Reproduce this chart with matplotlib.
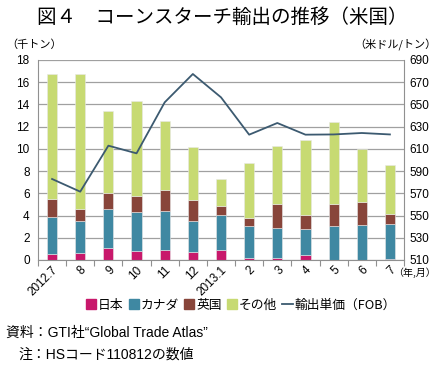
import numpy as np
import matplotlib.pyplot as plt
from matplotlib.lines import Line2D
from matplotlib.patches import Patch

plt.rcParams['font.family'] = ['Liberation Sans', 'Noto Sans CJK JP', 'DejaVu Sans']

months = ["2012.7", "8", "9", "10", "11", "12", "2013.1", "2", "3", "4", "5", "6", "7"]
japan = [0.5, 0.66, 1.1, 0.78, 0.93, 0.75, 0.92, 0.2, 0.2, 0.42, 0.0, 0.0, 0.1]
canada = [3.34, 2.88, 3.52, 3.51, 3.45, 2.76, 3.12, 2.9, 2.7, 2.38, 3.03, 3.12, 3.17]
uk = [1.66, 1.02, 1.41, 1.44, 1.89, 1.89, 0.83, 0.7, 2.15, 1.28, 2.01, 2.1, 0.9]
other = [11.2, 12.19, 7.37, 8.57, 6.23, 4.8, 2.38, 4.9, 5.2, 6.72, 7.41, 4.74, 4.41]
price = [582.9, 571.5, 612.9, 606.0, 651.9, 677.4, 656.4, 622.8, 633.3, 622.8, 623.0, 624.3, 623.0]

c_jp = "#C8186B"
c_ca = "#3F88A2"
c_uk = "#88453A"
c_ot = "#C7DA72"
c_line = "#3C5A70"
jp = ['Noto Sans CJK JP', 'DejaVu Sans']

fig = plt.figure(figsize=(4.39, 3.66), dpi=100)
ax = fig.add_axes([38/439, 1-260/366, (404-38)/439, 200/366])
x = np.arange(len(months))
w = 0.36
b1 = np.array(japan)
b2 = b1 + np.array(canada)
b3 = b2 + np.array(uk)
ax.bar(x, japan, w, color=c_jp, edgecolor="#e8e8e8", linewidth=0.4, zorder=2)
ax.bar(x, canada, w, bottom=b1, color=c_ca, edgecolor="#e8e8e8", linewidth=0.4, zorder=2)
ax.bar(x, uk, w, bottom=b2, color=c_uk, edgecolor="#e8e8e8", linewidth=0.4, zorder=2)
ax.bar(x, other, w, bottom=b3, color=c_ot, edgecolor="#e8e8e8", linewidth=0.4, zorder=2)

ax.set_ylim(0, 18)
ax.set_yticks(np.arange(0, 19, 2))
ax.set_xlim(-0.5, len(months) - 0.5)
ax.grid(axis="y", color="#a0a0a0", linewidth=0.9, zorder=0)
ax.set_xticks(np.arange(-0.5, len(months), 1))
ax.set_xticklabels([])
ax.set_xticks(x, minor=True)
ax.set_xticklabels(months, minor=True, rotation=45, ha="right", rotation_mode="anchor", fontsize=8.5)
ax.tick_params(axis="x", which="minor", length=0, pad=3)
ax.tick_params(axis="x", which="major", length=4, color="#909090", direction="out")
ax.tick_params(axis="y", length=0, labelsize=8.5, pad=6)
for s in ["top", "right"]:
    ax.spines[s].set_visible(False)
ax.spines["left"].set_color("#909090")
ax.spines["bottom"].set_color("#909090")

ax2 = ax.twinx()
ax2.plot(x, price, color=c_line, linewidth=1.3, zorder=3)
ax2.set_ylim(510, 690)
ax2.set_yticks(np.arange(510, 691, 20))
ax2.tick_params(axis="y", length=0, labelsize=8.5, pad=4)
for s in ["top", "left", "bottom"]:
    ax2.spines[s].set_visible(False)
ax2.spines["right"].set_color("#909090")

fig.text(222/439, 1-17/366, "図４　コーンスターチ輸出の推移（米国）", ha="center", va="center",
         fontsize=14, family=jp)
fig.text(6/439, 1-45/366, "（千トン）", ha="left", va="center", fontsize=8, family=jp)
fig.text(437/439, 1-45/366, "（米ドル/トン）", ha="right", va="center", fontsize=8, family=jp)
fig.text(436/439, 1-273/366, "（年,月）", ha="right", va="center", fontsize=7.2, family=jp)

handles = [Patch(color=c_jp), Patch(color=c_ca), Patch(color=c_uk), Patch(color=c_ot),
           Line2D([0], [0], color=c_line, linewidth=1.3)]
labels = ["日本", "カナダ", "英国", "その他", "輸出単価（FOB）"]
fig.legend(handles, labels, loc="center", bbox_to_anchor=(241/439, 1-305/366), ncol=5,
           frameon=False, handlelength=0.8, handletextpad=0.15, columnspacing=0.4,
           handleheight=0.8, prop={'family': jp, 'size': 9.2})

fig.text(6/439, 1-333/366, "資料：GTI社“Global Trade Atlas”", ha="left", va="center", fontsize=10)
fig.text(18/439, 1-355/366, "注：HSコード110812の数値", ha="left", va="center", fontsize=10)

fig.savefig("out.png", dpi=100)
